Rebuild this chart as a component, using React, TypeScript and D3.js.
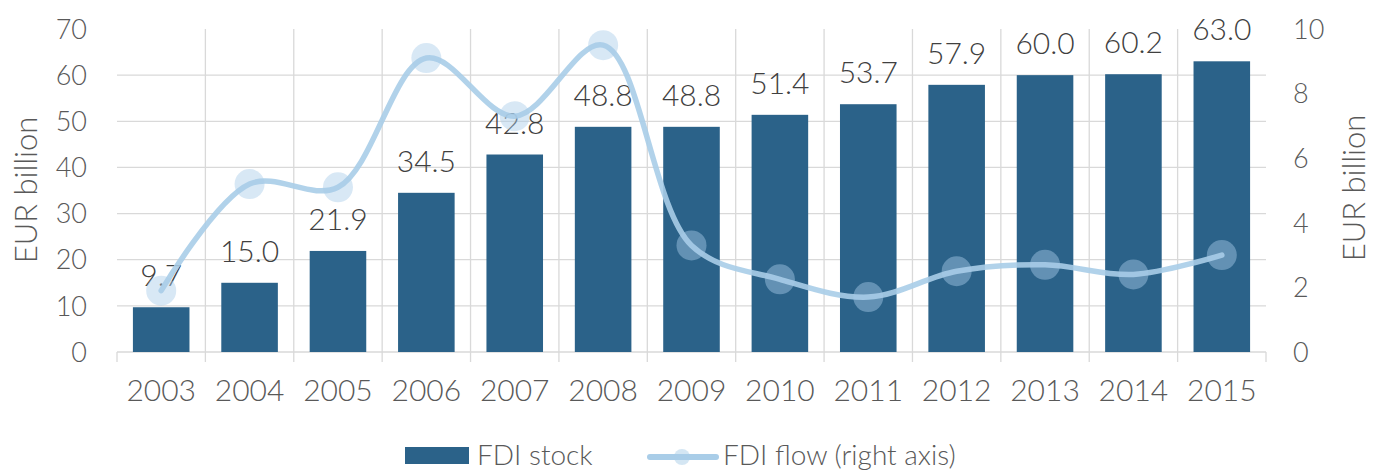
import React, { useEffect, useRef } from 'react';
import * as d3 from 'd3';

const years = ['2003', '2004', '2005', '2006', '2007', '2008', '2009', '2010', '2011', '2012', '2013', '2014', '2015'];
const fdiStock = [9.7, 15.0, 21.9, 34.5, 42.8, 48.8, 48.8, 51.4, 53.7, 57.9, 60.0, 60.2, 63.0];
const fdiFlow = [1.9, 5.2, 5.1, 9.1, 7.3, 9.5, 3.3, 2.25, 1.7, 2.5, 2.7, 2.4, 3.0];
const leftTicks = [0, 10, 20, 30, 40, 50, 60, 70];
const rightTicks = [0, 2, 4, 6, 8, 10];

const FONT = 'Lato, "Open Sans", sans-serif';
const BAR = '#2b6289';
const LINE = '#a9cde8';
const GRID = '#d9d9d9';

const App = () => {
  const svgRef = useRef(null);

  useEffect(() => {
    const svg = d3.select(svgRef.current);
    svg.selectAll('*').remove();

    const left = 117, right = 1266, top = 29, bottom = 352;

    const x = d3.scaleBand().domain(years).range([left, right])
      .paddingInner(0.36).paddingOuter(0.18);
    const yL = d3.scaleLinear().domain([0, 70]).range([bottom, top]);
    const yR = d3.scaleLinear().domain([0, 10]).range([bottom, top]);
    const step = x.step();

    // horizontal grid
    svg.append('g').selectAll('line')
      .data(leftTicks.filter(t => t > 0 && t < 70))
      .enter().append('line')
      .attr('x1', left).attr('x2', right)
      .attr('y1', d => yL(d)).attr('y2', d => yL(d))
      .attr('stroke', GRID).attr('stroke-width', 1.3);

    // vertical grid / category ticks
    const bounds = d3.range(years.length + 1).map(i => left + i * step);
    svg.append('g').selectAll('line')
      .data(bounds)
      .enter().append('line')
      .attr('x1', d => d).attr('x2', d => d)
      .attr('y1', (d, i) => (i === 0 || i === years.length ? bottom : top))
      .attr('y2', bottom + 10)
      .attr('stroke', GRID).attr('stroke-width', 1.3);

    // base axis
    svg.append('line')
      .attr('x1', left).attr('x2', right)
      .attr('y1', bottom).attr('y2', bottom)
      .attr('stroke', GRID).attr('stroke-width', 1.5);

    // bars
    svg.append('g').selectAll('rect')
      .data(fdiStock)
      .enter().append('rect')
      .attr('x', (d, i) => x(years[i]))
      .attr('width', x.bandwidth())
      .attr('y', d => yL(d))
      .attr('height', d => bottom - yL(d))
      .attr('fill', BAR);

    // bar labels
    svg.append('g').selectAll('text')
      .data(fdiStock)
      .enter().append('text')
      .attr('x', (d, i) => x(years[i]) + x.bandwidth() / 2)
      .attr('y', d => yL(d) - 21)
      .attr('text-anchor', 'middle')
      .attr('font-family', FONT).attr('font-size', 30).attr('font-weight', 300)
      .attr('fill', '#404040')
      .text(d => d.toFixed(1));

    // flow line
    const cx = (i) => x(years[i]) + x.bandwidth() / 2;
    const line = d3.line()
      .x((d, i) => cx(i))
      .y(d => yR(d))
      .curve(d3.curveCatmullRom.alpha(0.5));

    svg.append('path')
      .datum(fdiFlow)
      .attr('d', line)
      .attr('fill', 'none')
      .attr('stroke', LINE).attr('stroke-opacity', 0.9)
      .attr('stroke-width', 5.5)
      .attr('stroke-linecap', 'round');

    svg.append('g').selectAll('circle')
      .data(fdiFlow)
      .enter().append('circle')
      .attr('cx', (d, i) => cx(i))
      .attr('cy', d => yR(d))
      .attr('r', 15)
      .attr('fill', LINE).attr('fill-opacity', 0.45);

    // left ticks
    svg.append('g').selectAll('text')
      .data(leftTicks)
      .enter().append('text')
      .attr('x', 87).attr('y', d => yL(d))
      .attr('dy', '0.36em')
      .attr('text-anchor', 'end')
      .attr('font-family', FONT).attr('font-size', 27).attr('font-weight', 300)
      .attr('fill', '#595959')
      .text(d => d);

    // right ticks
    svg.append('g').selectAll('text')
      .data(rightTicks)
      .enter().append('text')
      .attr('x', 1293).attr('y', d => yR(d))
      .attr('dy', '0.36em')
      .attr('font-family', FONT).attr('font-size', 27).attr('font-weight', 300)
      .attr('fill', '#595959')
      .text(d => d);

    // year labels
    svg.append('g').selectAll('text')
      .data(years)
      .enter().append('text')
      .attr('x', d => x(d) + x.bandwidth() / 2)
      .attr('y', 401)
      .attr('text-anchor', 'middle')
      .attr('font-family', FONT).attr('font-size', 30).attr('font-weight', 300)
      .attr('fill', '#595959')
      .text(d => d);

    // axis titles
    svg.append('text')
      .attr('transform', 'translate(37,190) rotate(-90)')
      .attr('text-anchor', 'middle')
      .attr('font-family', FONT).attr('font-size', 31).attr('font-weight', 300)
      .attr('fill', '#595959')
      .text('EUR billion');

    svg.append('text')
      .attr('transform', 'translate(1365,188) rotate(-90)')
      .attr('text-anchor', 'middle')
      .attr('font-family', FONT).attr('font-size', 31).attr('font-weight', 300)
      .attr('fill', '#595959')
      .text('EUR billion');

    // legend
    const lg = svg.append('g');
    lg.append('rect')
      .attr('x', 405).attr('y', 447).attr('width', 64).attr('height', 17)
      .attr('fill', BAR);
    lg.append('text')
      .attr('x', 477).attr('y', 465)
      .attr('font-family', FONT).attr('font-size', 28).attr('font-weight', 300)
      .attr('fill', '#595959')
      .text('FDI stock');
    lg.append('line')
      .attr('x1', 650).attr('x2', 716).attr('y1', 457).attr('y2', 457)
      .attr('stroke', LINE).attr('stroke-width', 6).attr('stroke-linecap', 'round');
    lg.append('circle')
      .attr('cx', 682).attr('cy', 457).attr('r', 8)
      .attr('fill', LINE).attr('fill-opacity', 0.5);
    lg.append('text')
      .attr('x', 723).attr('y', 465)
      .attr('font-family', FONT).attr('font-size', 28).attr('font-weight', 300)
      .attr('fill', '#595959')
      .text('FDI flow (right axis)');
  }, []);

  return (
    <div style={{ position: 'absolute', left: 0, top: 0 }}>
      <svg ref={svgRef} width={1373} height={472} style={{ display: 'block' }}></svg>
    </div>
  );
};

export default App;
